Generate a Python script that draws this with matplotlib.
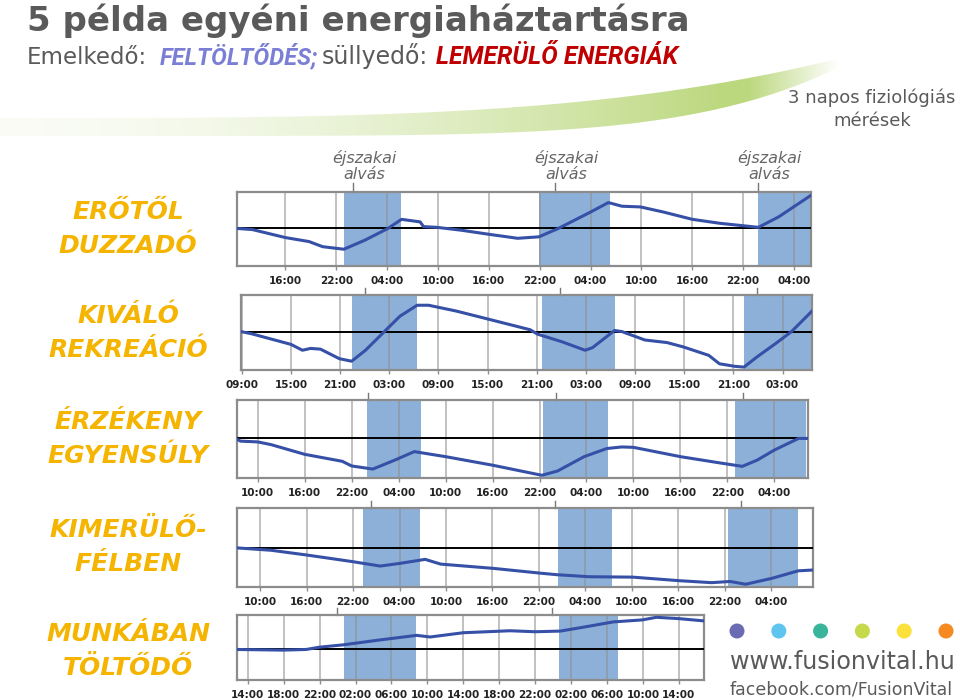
import matplotlib
matplotlib.use('Agg')
import matplotlib.pyplot as plt
import matplotlib.transforms as mtransforms
from matplotlib.path import Path
from matplotlib.patches import PathPatch, Circle
import numpy as np

W, H = 960, 700

# hours counted from midnight of the first measurement day, values relative to the start level
p1_hours = [10.3, 12.1, 16.0, 18.8, 20.4, 22.9, 25.4, 28.1, 29.7, 31.9, 32.3, 33.9, 36.8, 40.0, 43.4, 45.9,
            48.2, 52.0, 54.1, 55.7, 57.9, 60.6, 64.0, 67.3, 70.2, 71.8, 74.2, 78.0]
p1_vals = [0.0, -0.03, -0.25, -0.36, -0.50, -0.57, -0.32, 0.0, 0.25, 0.18, 0.05, 0.03, -0.05, -0.16, -0.27, -0.23,
           0.0, 0.45, 0.71, 0.61, 0.59, 0.45, 0.25, 0.14, 0.07, 0.03, 0.32, 0.91]
p1_sleep = [(22.9, 29.6), (45.9, 54.3), (71.7, 78.0)]
p1_ticks = [16, 22, 28, 34, 40, 46, 52, 58, 64, 70, 76]
p1_notes = [24.0, 47.8, 71.8]

p2_hours = [8.9, 10.2, 15.0, 16.4, 17.4, 18.6, 20.9, 22.4, 24.1, 26.4, 28.3, 30.4, 31.8, 35.2, 39.8, 44.2, 45.1,
            48.1, 50.9, 51.8, 54.5, 55.4, 58.2, 60.9, 62.9, 66.0, 67.3, 69.2, 70.3, 71.9, 74.2, 76.1, 78.6]
p2_vals = [0.0, -0.06, -0.35, -0.51, -0.46, -0.48, -0.74, -0.81, -0.51, 0.0, 0.42, 0.72, 0.72, 0.56, 0.30, 0.05, -0.07,
           -0.28, -0.51, -0.44, 0.03, 0.0, -0.23, -0.30, -0.42, -0.65, -0.88, -0.95, -0.97, -0.69, -0.32, 0.0, 0.56]
p2_sleep = [(22.4, 30.4), (45.6, 54.6), (70.3, 78.6)]
p2_ticks = [9, 15, 21, 27, 33, 39, 45, 51, 57, 63, 69, 75]
p2_notes = [24.0, 47.8, 71.9]

p3_hours = [7.35, 7.8, 10.0, 11.7, 16.0, 20.8, 22.0, 24.7, 27.5, 30.0, 34.0, 40.0, 46.3, 48.3, 51.7, 54.6, 56.5,
            58.0, 64.0, 69.0, 71.9, 73.8, 76.0, 79.1, 80.3]
p3_vals = [-0.02, -0.07, -0.09, -0.16, -0.41, -0.59, -0.71, -0.79, -0.56, -0.34, -0.47, -0.69, -0.95, -0.84, -0.47,
           -0.26, -0.22, -0.23, -0.47, -0.63, -0.72, -0.56, -0.30, 0.0, 0.0]
p3_sleep = [(24.0, 30.8), (46.5, 54.8), (71.0, 80.1)]
p3_ticks = [10, 16, 22, 28, 34, 40, 46, 52, 58, 64, 70, 76]
p3_notes = [24.1, 48.1, 72.0]

p4_hours = [7.0, 11.4, 16.0, 22.0, 25.5, 28.1, 31.3, 33.3, 40.2, 46.2, 48.4, 52.5, 58.1, 64.1, 68.3, 70.7, 72.7,
            76.1, 79.5, 81.4]
p4_vals = [0.0, -0.06, -0.18, -0.35, -0.46, -0.39, -0.29, -0.41, -0.52, -0.64, -0.68, -0.73, -0.74, -0.83, -0.88,
           -0.85, -0.92, -0.77, -0.58, -0.56]
p4_sleep = [(23.3, 30.7), (48.4, 55.4), (70.4, 79.4)]
p4_ticks = [10, 16, 22, 28, 34, 40, 46, 52, 58, 64, 70, 76]
p4_notes = [24.3, 48.1, 72.1]

p5_hours = [12.8, 17.9, 20.5, 22.0, 24.6, 28.7, 32.8, 34.3, 38.0, 43.2, 46.0, 48.8, 51.4, 54.7, 57.9, 59.5, 62.0, 64.8]
p5_vals = [-0.02, -0.04, -0.02, 0.05, 0.12, 0.27, 0.41, 0.36, 0.49, 0.55, 0.52, 0.54, 0.66, 0.82, 0.88, 0.96, 0.92,
           0.85]
p5_sleep = [(24.7, 32.7), (48.7, 55.2)]
p5_ticks = [14, 18, 22, 26, 30, 34, 38, 42, 46, 50, 54, 58, 62]
p5_notes = [23.9, 47.9]

categories = ["ERŐTŐL\nDUZZADÓ", "KIVÁLÓ\nREKREÁCIÓ", "ÉRZÉKENY\nEGYENSÚLY", "KIMERÜLŐ-\nFÉLBEN", "MUNKÁBAN\nTÖLTŐDŐ"]
dot_colors = ['#6B6BB3', '#5EC5EF', '#3AB59C', '#C5D94B', '#FDE13B', '#F6891F']

# panel boxes in pixels (left, top, right, bottom) and y ranges
boxes = [(237, 192, 811, 266), (241, 295, 812, 370), (237, 400, 808, 478), (237, 508, 813, 587), (237, 615, 704, 680)]
ylims = [(-1.03, 1.0), (-1.05, 1.0), (-1.02, 0.99), (-0.99, 1.01), (-0.95, 1.03)]

fig = plt.figure(figsize=(9.6, 7.0), dpi=100)
bg = fig.add_axes([0, 0, 1, 1])
bg.set_xlim(0, W)
bg.set_ylim(H, 0)
bg.axis('off')

# green swoosh behind the heading
sx = np.linspace(0, 840, 120)
top = 118 - 55 * (sx / 820) ** 3.5
bot = 136 - 60 * (sx / 820) ** 6
verts = list(zip(sx, top)) + list(zip(sx[::-1], bot[::-1]))
clip = PathPatch(Path(verts), facecolor='none', edgecolor='none', transform=bg.transData)
bg.add_patch(clip)
gx = np.linspace(0, 840, 400)
alpha = (0.08 + 0.92 * np.clip(gx / 720, 0, 1) ** 1.8) * np.clip((840 - gx) / 90, 0, 1)
img = np.zeros((60, len(gx), 4))
img[..., 0] = 0.74
img[..., 1] = 0.85
img[..., 2] = 0.50
img[..., 3] = alpha[None, :]
im = bg.imshow(img, extent=(0, 840, 140, 55), aspect='auto', zorder=0)
im.set_clip_path(clip)
bg.set_xlim(0, W)
bg.set_ylim(H, 0)

gray = '#5a5a5a'
bg.text(27, 31, "5 példa egyéni energiaháztartásra", fontsize=24.5, fontweight='bold', color=gray, va='baseline')
bg.text(27, 64, "Emelkedő:", fontsize=16.5, color=gray, va='baseline')
bg.text(160, 64, "FELTÖLTŐDÉS;", fontsize=17, fontweight='bold', style='italic', color='#7A7FD5',
        family='Roboto', va='baseline')
bg.text(322, 64, "süllyedő:", fontsize=17, color=gray, va='baseline')
bg.text(436, 64, "LEMERÜLŐ ENERGIÁK", fontsize=17.8, fontweight='bold', style='italic', color='#C00000',
        family='Roboto', va='baseline')

bg.text(872, 98, "3 napos fiziológiás", fontsize=13, color=gray, ha='center', va='center')
bg.text(872, 121, "mérések", fontsize=13, color=gray, ha='center', va='center')

label_y = [229, 333, 439, 547, 651]
for name, yc in zip(categories, label_y):
    l1, l2 = name.split("\n")
    bg.text(128, yc - 17, l1, fontsize=18, fontweight='bold', style='italic', color='#F4B400', ha='center', va='center')
    bg.text(128, yc + 17, l2, fontsize=18, fontweight='bold', style='italic', color='#F4B400', ha='center', va='center')

for i, c in enumerate(dot_colors):
    bg.add_patch(Circle((737 + i * 41.8, 631), 7.5, color=c, lw=0))
bg.text(730, 662, "www.fusionvital.hu", fontsize=17.2, color=gray, ha='left', va='center')
bg.text(730, 689, "facebook.com/FusionVital", fontsize=12.5, color=gray, ha='left', va='center')

panels = [(p1_hours, p1_vals, p1_sleep, p1_ticks, p1_notes),
          (p2_hours, p2_vals, p2_sleep, p2_ticks, p2_notes),
          (p3_hours, p3_vals, p3_sleep, p3_ticks, p3_notes),
          (p4_hours, p4_vals, p4_sleep, p4_ticks, p4_notes),
          (p5_hours, p5_vals, p5_sleep, p5_ticks, p5_notes)]

for k, (hours, vals, sleep, ticks, notes) in enumerate(panels):
    x0, y0, x1, y1 = boxes[k]
    ax = fig.add_axes([x0 / W, 1 - y1 / H, (x1 - x0) / W, (y1 - y0) / H])
    ax.set_xlim(hours[0], hours[-1])
    ax.set_ylim(*ylims[k])
    for a, b in sleep:
        ax.axvspan(a, b, color='#8DB0D9', lw=0, zorder=1)
    for t in ticks:
        ax.axvline(t, color='#8f8f8f', lw=1.1, alpha=0.7, zorder=2)
    ax.axhline(0, color='black', lw=1.4, zorder=3)
    ax.plot(hours, vals, color='#3550A6', lw=2.2, zorder=4, solid_joinstyle='round')
    ax.set_yticks([])
    ax.set_xticks(ticks)
    ax.set_xticklabels(["%02d:00" % (t % 24) for t in ticks], fontsize=7.5, fontweight='bold', color='#222222')
    ax.tick_params(axis='x', length=3, width=1, color='#8f8f8f', pad=4)
    for s in ax.spines.values():
        s.set_color('#8c8c8c')
        s.set_linewidth(1.6)
    trans = mtransforms.blended_transform_factory(ax.transData, ax.transAxes)
    if k == 0:
        for n in notes:
            ax.plot([n, n], [1.0, 1.12], color='#777777', lw=1, transform=trans, clip_on=False)
            ax.text(n + 1.3, 1.35, "éjszakai\nalvás", transform=trans, fontsize=11.5, style='italic',
                    color='#666666', ha='center', va='center', linespacing=1.05)
    else:
        for n in notes:
            ax.plot([n, n], [1.0, 1.0 + 7 / (y1 - y0)], color='#777777', lw=1, transform=trans, clip_on=False)

fig.savefig('out.png', dpi=100)
